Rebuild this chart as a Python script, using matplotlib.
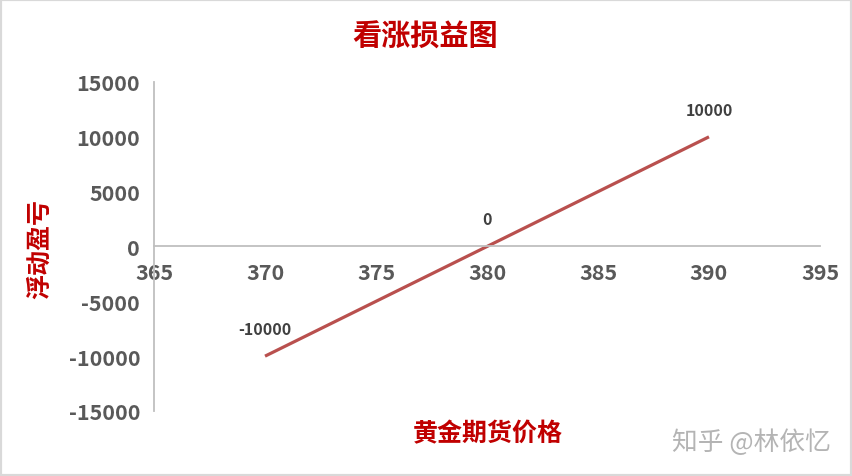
import matplotlib.pyplot as plt
from matplotlib.patches import Rectangle

plt.rcParams['font.family'] = ['Noto Sans CJK SC', 'DejaVu Sans']

# 数据
precio = [370, 380, 390]
pnl = [-10000, 0, 10000]
xticks = [365, 370, 375, 380, 385, 390, 395]
yticks = [-15000, -10000, -5000, 0, 5000, 10000, 15000]

rojo = '#C00000'
gris = '#595959'

fig = plt.figure(figsize=(8.52, 4.77), dpi=100)
ax = fig.add_axes([0.1808, 0.1363, 0.7816, 0.6897])

ax.plot(precio, pnl, color='#B9504E', linewidth=2.3, solid_capstyle='butt')

# etiquetas de datos
for x, y in zip(precio, pnl):
    ax.annotate(f'{y}', (x, y), xytext=(0, 19.5), textcoords='offset points',
                ha='center', va='center', fontsize=11.5, fontweight='bold', color='#404040')

ax.set_xlim(365, 395)
ax.set_ylim(-15000, 15000)
ax.set_xticks(xticks)
ax.set_yticks(yticks)
ax.set_xticklabels([str(t) for t in xticks])
ax.set_yticklabels([str(t) for t in yticks])

for s in ['top', 'right']:
    ax.spines[s].set_visible(False)
ax.spines['bottom'].set_position(('data', 0))
ax.spines['left'].set_color('#BFBFBF')
ax.spines['bottom'].set_color('#BFBFBF')
ax.spines['left'].set_linewidth(1.3)
ax.spines['bottom'].set_linewidth(1.3)

ax.tick_params(axis='both', length=0, labelsize=15.5, labelcolor=gris)
ax.tick_params(axis='x', pad=11)
ax.tick_params(axis='y', pad=10)
for lab in ax.get_xticklabels() + ax.get_yticklabels():
    lab.set_fontweight('bold')

# títulos
fig.text(0.499, 0.924, '看涨损益图', ha='center', va='center', fontsize=21,
         fontweight='heavy', color=rojo)
fig.text(0.047, 0.478, '浮动盈亏', ha='center', va='center', rotation=90,
         fontsize=18, fontweight='heavy', color=rojo)
fig.text(0.572, 0.090, '黄金期货价格', ha='center', va='center', fontsize=18,
         fontweight='heavy', color=rojo)

# marca de agua
fig.text(0.882, 0.071, '知乎 @林依忆', ha='center', va='center', fontsize=18.5,
         color='#B4B4B4', fontweight='light')

# borde
fig.patches.append(Rectangle((0, 0), 1, 1, transform=fig.transFigure, fill=False,
                             edgecolor='#D9D9D9', linewidth=3))

fig.savefig('out.png', dpi=100)
